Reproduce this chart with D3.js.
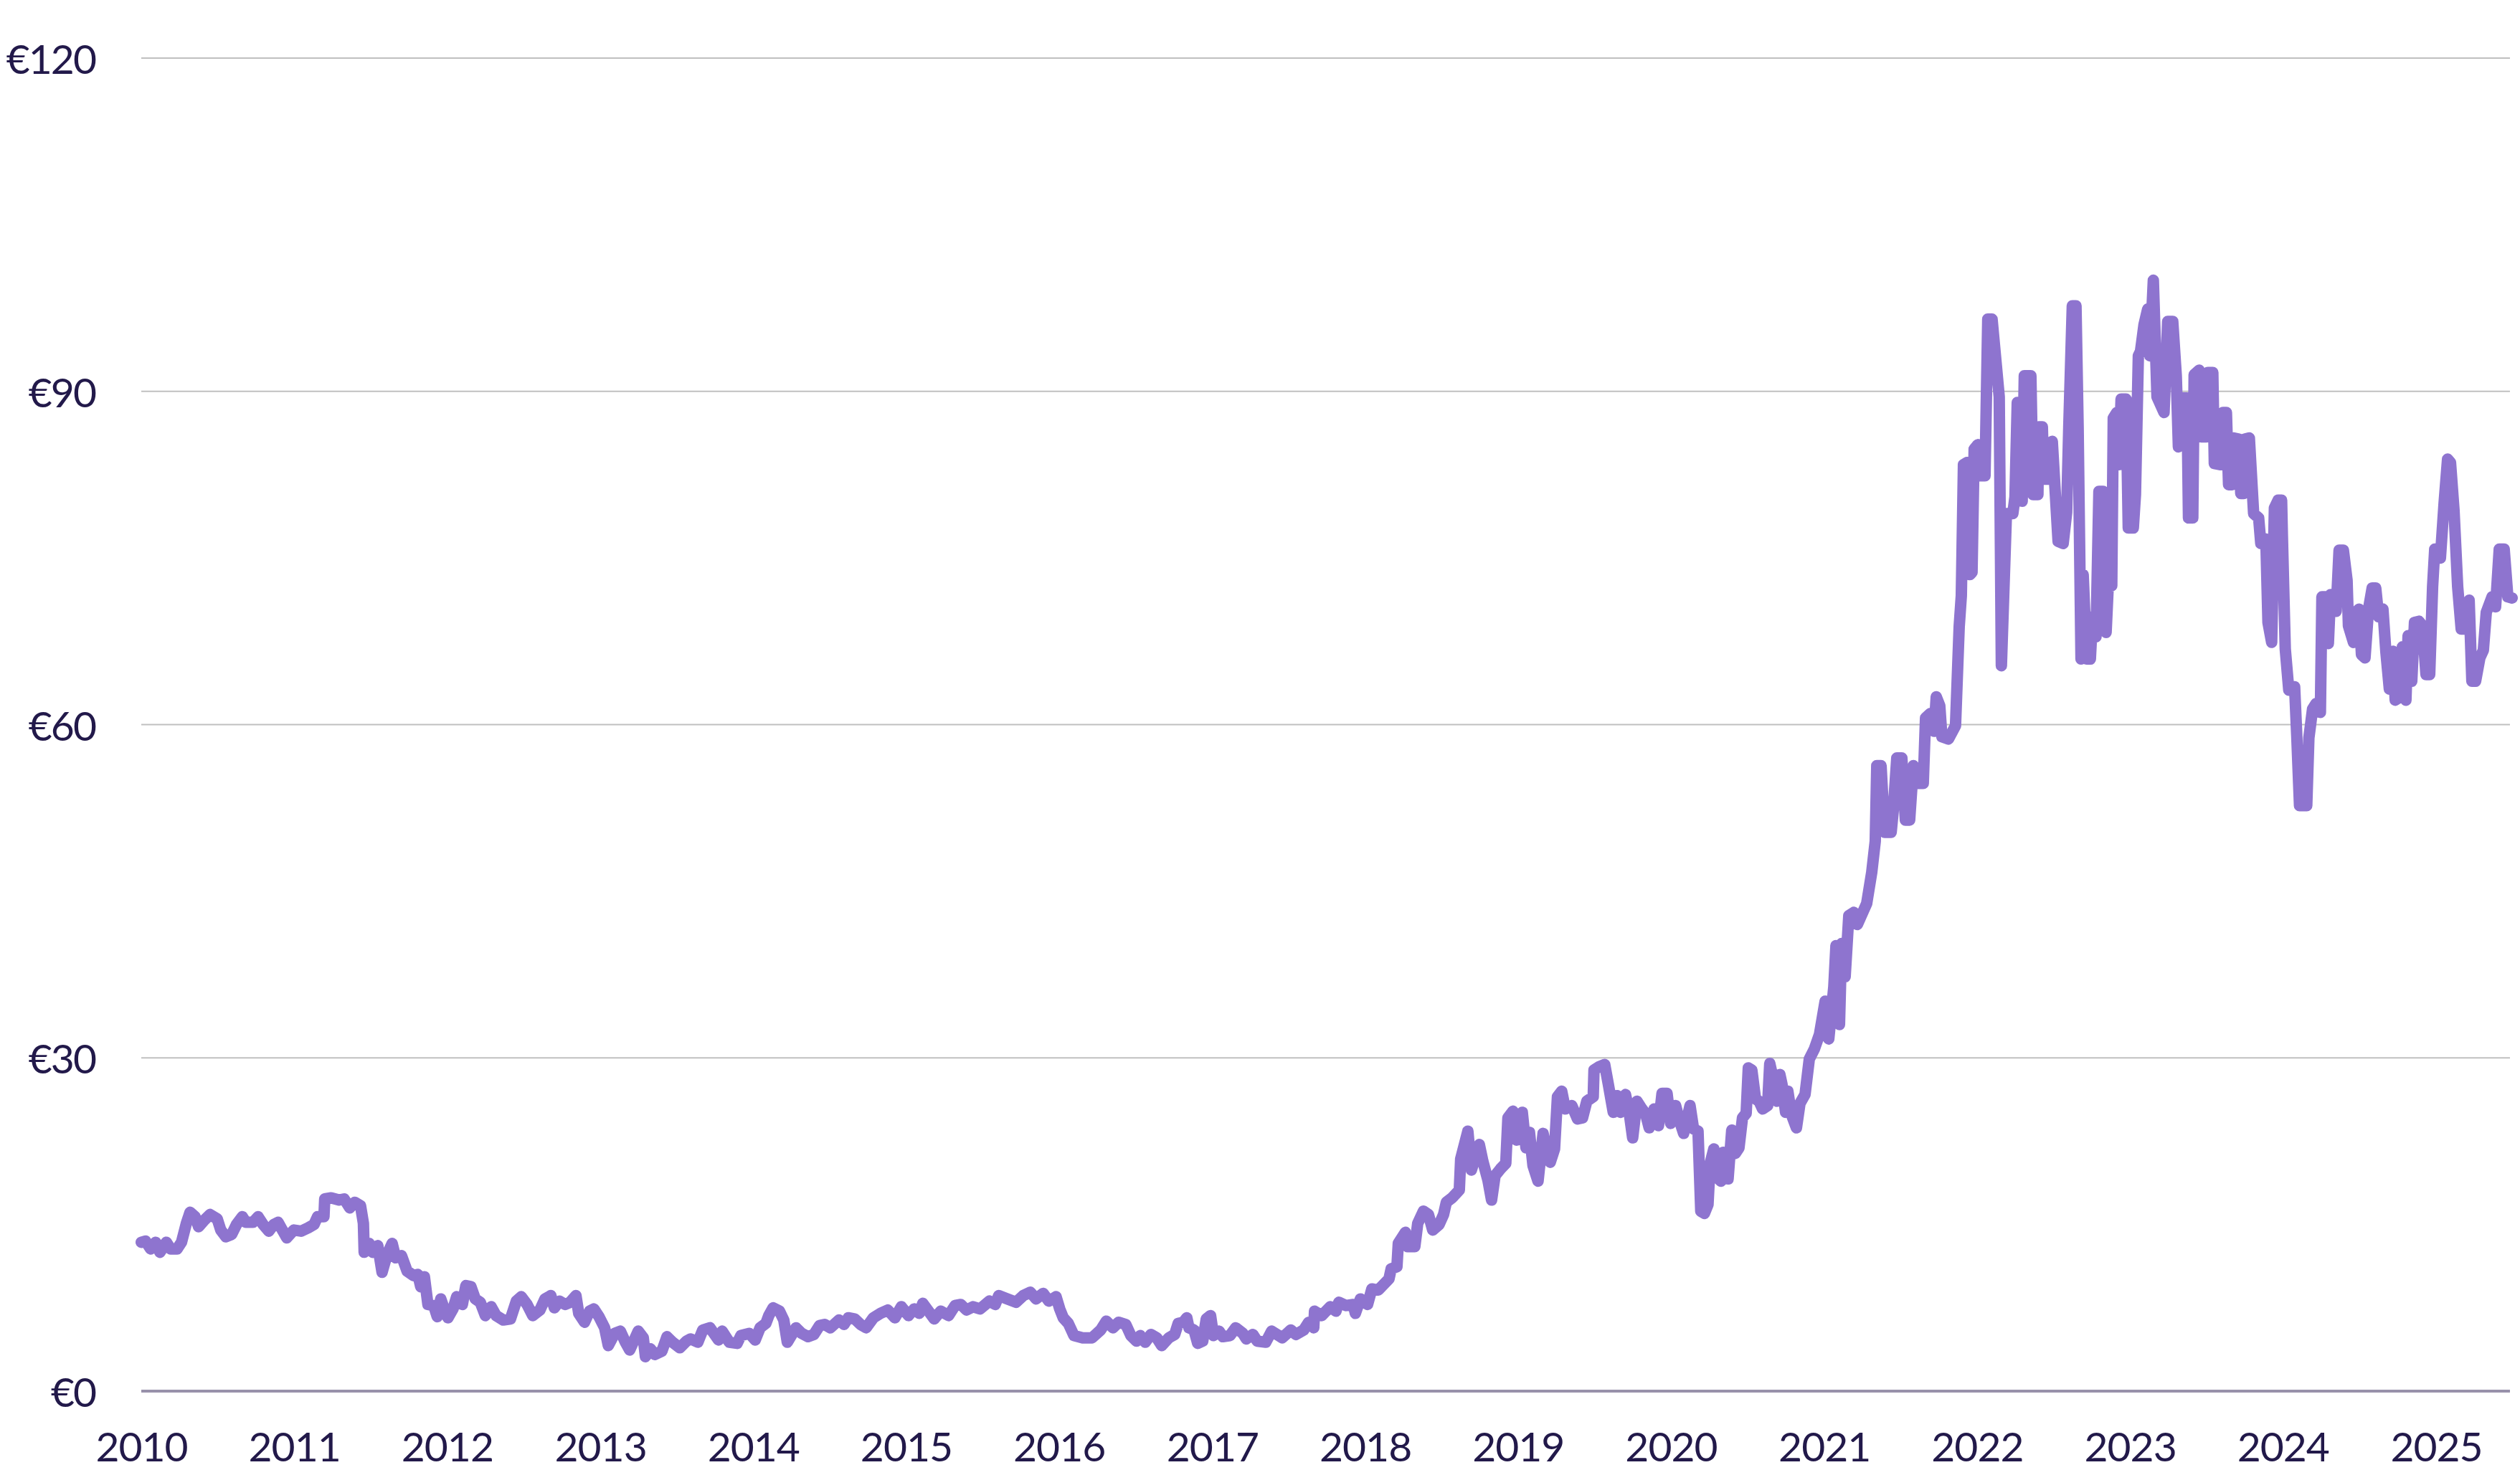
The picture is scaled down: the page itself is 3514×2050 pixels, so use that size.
<!DOCTYPE html>
<html>
<head>
<meta charset="utf-8">
<script src="https://cdnjs.cloudflare.com/ajax/libs/d3/7.8.5/d3.min.js"></script>
<style>
  html, body { margin: 0; padding: 0; background: #ffffff; }
  svg text { font-family: "Lato", "Open Sans", sans-serif; fill: #22194a; }
</style>
</head>
<body>
<div id="chart"></div>
<script>
// decimal years (2010 + fraction)
const years = [
  2010.000, 2010.028, 2010.061, 2010.094, 2010.122, 2010.164, 2010.192, 2010.234, 2010.263, 2010.295,
  2010.319, 2010.352, 2010.375, 2010.413, 2010.450, 2010.497, 2010.520, 2010.553, 2010.591, 2010.623,
  2010.661, 2010.684, 2010.731, 2010.764, 2010.797, 2010.834, 2010.867, 2010.895, 2010.919, 2010.952,
  2010.998, 2011.045, 2011.092, 2011.130, 2011.153, 2011.195, 2011.200, 2011.242, 2011.294, 2011.327,
  2011.364, 2011.397, 2011.434, 2011.453, 2011.458, 2011.491, 2011.514, 2011.547, 2011.575, 2011.608,
  2011.641, 2011.664, 2011.702, 2011.739, 2011.781, 2011.809, 2011.828, 2011.852, 2011.875, 2011.913,
  2011.936, 2011.959, 2011.992, 2012.006, 2012.039, 2012.063, 2012.100, 2012.123, 2012.156, 2012.184,
  2012.217, 2012.250, 2012.288, 2012.320, 2012.367, 2012.414, 2012.452, 2012.484, 2012.522, 2012.559,
  2012.606, 2012.639, 2012.677, 2012.700, 2012.733, 2012.770, 2012.803, 2012.841, 2012.859, 2012.897,
  2012.930, 2012.958, 2012.991, 2013.028, 2013.052, 2013.094, 2013.131, 2013.164, 2013.192, 2013.248,
  2013.281, 2013.295, 2013.328, 2013.356, 2013.403, 2013.436, 2013.473, 2013.520, 2013.563, 2013.591,
  2013.638, 2013.670, 2013.717, 2013.773, 2013.797, 2013.844, 2013.895, 2013.919, 2013.975, 2014.013,
  2014.045, 2014.083, 2014.102, 2014.130, 2014.172, 2014.200, 2014.223, 2014.280, 2014.317, 2014.359,
  2014.397, 2014.434, 2014.467, 2014.505, 2014.561, 2014.594, 2014.622, 2014.664, 2014.702, 2014.739,
  2014.786, 2014.833, 2014.880, 2014.927, 2014.969, 2015.016, 2015.053, 2015.086, 2015.109, 2015.147,
  2015.184, 2015.227, 2015.278, 2015.320, 2015.358, 2015.395, 2015.438, 2015.484, 2015.545, 2015.583,
  2015.606, 2015.663, 2015.719, 2015.766, 2015.813, 2015.850, 2015.897, 2015.934, 2015.981, 2016.005,
  2016.028, 2016.061, 2016.098, 2016.155, 2016.216, 2016.272, 2016.309, 2016.352, 2016.389, 2016.436,
  2016.469, 2016.506, 2016.530, 2016.563, 2016.600, 2016.638, 2016.670, 2016.717, 2016.755, 2016.778,
  2016.811, 2016.834, 2016.848, 2016.881, 2016.905, 2016.938, 2016.961, 2016.989, 2017.008, 2017.045,
  2017.069, 2017.116, 2017.153, 2017.200, 2017.223, 2017.266, 2017.294, 2017.350, 2017.388, 2017.458,
  2017.514, 2017.547, 2017.598, 2017.631, 2017.664, 2017.669, 2017.716, 2017.772, 2017.809, 2017.828,
  2017.875, 2017.922, 2017.936, 2017.969, 2018.016, 2018.044, 2018.086, 2018.156, 2018.170, 2018.208,
  2018.217, 2018.264, 2018.278, 2018.325, 2018.344, 2018.381, 2018.414, 2018.442, 2018.484, 2018.513,
  2018.531, 2018.569, 2018.616, 2018.625, 2018.672, 2018.695, 2018.747, 2018.770, 2018.803, 2018.827,
  2018.850, 2018.885, 2018.920, 2018.934, 2018.967, 2018.991, 2019.028, 2019.052, 2019.075, 2019.098,
  2019.131, 2019.164, 2019.178, 2019.211, 2019.239, 2019.258, 2019.286, 2019.309, 2019.352, 2019.389,
  2019.422, 2019.450, 2019.492, 2019.497, 2019.530, 2019.567, 2019.591, 2019.623, 2019.647, 2019.670,
  2019.703, 2019.727, 2019.750, 2019.778, 2019.811, 2019.834, 2019.858, 2019.891, 2019.919, 2019.942,
  2019.975, 2019.998, 2020.031, 2020.055, 2020.083, 2020.125, 2020.148, 2020.177, 2020.195, 2020.219,
  2020.242, 2020.256, 2020.280, 2020.303, 2020.327, 2020.341, 2020.373, 2020.397, 2020.420, 2020.444,
  2020.467, 2020.491, 2020.505, 2020.528, 2020.552, 2020.575, 2020.598, 2020.631, 2020.645, 2020.669,
  2020.692, 2020.711, 2020.725, 2020.748, 2020.763, 2020.786, 2020.819, 2020.842, 2020.875, 2020.903,
  2020.936, 2020.969, 2021.006, 2021.030, 2021.063, 2021.077, 2021.100, 2021.114, 2021.137, 2021.161,
  2021.194, 2021.217, 2021.278, 2021.311, 2021.334, 2021.344, 2021.372, 2021.395, 2021.438, 2021.452,
  2021.475, 2021.508, 2021.531, 2021.559, 2021.583, 2021.616, 2021.648, 2021.663, 2021.695, 2021.719,
  2021.733, 2021.756, 2021.770, 2021.813, 2021.859, 2021.883, 2021.897, 2021.911, 2021.934, 2021.953,
  2021.967, 2021.981, 2022.005, 2022.028, 2022.052, 2022.070, 2022.098, 2022.145, 2022.159, 2022.192,
  2022.234, 2022.248, 2022.263, 2022.295, 2022.309, 2022.352, 2022.366, 2022.398, 2022.403, 2022.427,
  2022.436, 2022.469, 2022.492, 2022.530, 2022.563, 2022.586, 2022.600, 2022.623, 2022.647, 2022.661,
  2022.680, 2022.694, 2022.717, 2022.741, 2022.755, 2022.778, 2022.797, 2022.825, 2022.844, 2022.858,
  2022.881, 2022.891, 2022.914, 2022.928, 2022.942, 2022.975, 2022.989, 2023.022, 2023.036, 2023.055,
  2023.069, 2023.092, 2023.116, 2023.130, 2023.153, 2023.177, 2023.223, 2023.247, 2023.280, 2023.303,
  2023.317, 2023.341, 2023.373, 2023.383, 2023.411, 2023.420, 2023.453, 2023.467, 2023.500, 2023.509,
  2023.542, 2023.552, 2023.594, 2023.608, 2023.631, 2023.645, 2023.669, 2023.678, 2023.711, 2023.725,
  2023.744, 2023.753, 2023.781, 2023.809, 2023.842, 2023.856, 2023.889, 2023.903, 2023.927, 2023.945,
  2023.969, 2023.992, 2023.997, 2024.016, 2024.039, 2024.077, 2024.091, 2024.109, 2024.156, 2024.170,
  2024.194, 2024.217, 2024.245, 2024.255, 2024.278, 2024.297, 2024.311, 2024.334, 2024.348, 2024.367,
  2024.395, 2024.419, 2024.428, 2024.461, 2024.475, 2024.498, 2024.513, 2024.536, 2024.559, 2024.583,
  2024.606, 2024.625, 2024.653, 2024.672, 2024.695, 2024.719, 2024.733, 2024.766, 2024.780, 2024.803,
  2024.817, 2024.841, 2024.859, 2024.888, 2024.911, 2024.934, 2024.958, 2024.977, 2024.991, 2025.014,
  2025.028, 2025.052, 2025.075, 2025.094, 2025.117, 2025.141, 2025.164, 2025.192, 2025.216, 2025.234,
  2025.258, 2025.286, 2025.309, 2025.328, 2025.366, 2025.389, 2025.413, 2025.445, 2025.469, 2025.497
];

// price in euro at each of those points
const prices = [
  13.4, 13.5, 12.8, 13.4, 12.5, 13.4, 12.8, 12.8, 13.4, 15.1,
  16.1, 15.7, 14.8, 15.4, 15.9, 15.5, 14.5, 13.9, 14.1, 15.0,
  15.7, 15.2, 15.2, 15.7, 15.0, 14.4, 15.0, 15.2, 14.6, 13.8,
  14.5, 14.4, 14.7, 15.0, 15.7, 15.7, 17.3, 17.4, 17.2, 17.3,
  16.5, 17.0, 16.7, 15.1, 12.5, 13.3, 12.5, 13.1, 10.7, 12.3,
  13.3, 12.0, 12.2, 10.8, 10.4, 10.5, 9.4, 10.3, 7.8, 7.7,
  6.7, 8.3, 7.0, 6.6, 7.4, 8.5, 7.8, 9.5, 9.4, 8.3,
  8.0, 6.8, 7.6, 6.8, 6.4, 6.5, 8.1, 8.5, 7.8, 6.8,
  7.3, 8.3, 8.6, 7.5, 8.1, 7.8, 8.0, 8.6, 7.0, 6.2,
  7.2, 7.4, 6.7, 5.7, 4.1, 5.2, 5.4, 4.4, 3.7, 5.4,
  4.8, 3.1, 3.8, 3.3, 3.6, 4.9, 4.4, 3.9, 4.5, 4.7,
  4.4, 5.5, 5.7, 4.6, 5.4, 4.4, 4.3, 5.0, 5.2, 4.6,
  5.7, 6.1, 6.8, 7.5, 7.2, 6.4, 4.4, 5.7, 5.2, 4.9,
  5.1, 5.9, 6.0, 5.7, 6.4, 6.0, 6.6, 6.5, 6.0, 5.7,
  6.6, 7.0, 7.3, 6.6, 7.6, 6.8, 7.4, 7.0, 7.9, 7.2,
  6.5, 7.2, 6.8, 7.7, 7.8, 7.3, 7.6, 7.4, 8.1, 7.8,
  8.6, 8.3, 8.0, 8.6, 8.9, 8.3, 8.8, 8.1, 8.5, 7.4,
  6.6, 6.1, 5.0, 4.8, 4.8, 5.5, 6.3, 5.7, 6.2, 6.0,
  5.0, 4.5, 5.0, 4.4, 5.1, 4.8, 4.1, 4.8, 5.1, 6.1,
  6.2, 6.6, 5.7, 5.5, 4.3, 4.5, 6.5, 6.8, 5.0, 5.4,
  4.9, 5.0, 5.7, 5.2, 4.7, 5.1, 4.5, 4.4, 5.4, 4.8,
  5.5, 5.1, 5.5, 6.2, 5.7, 7.2, 6.8, 7.6, 7.2, 8.0,
  7.7, 7.8, 7.0, 8.3, 7.8, 9.2, 9.1, 10.1, 11.0, 11.2,
  13.3, 14.3, 13.0, 13.0, 15.1, 16.2, 15.9, 14.5, 15.0, 15.9,
  17.0, 17.4, 18.1, 20.9, 23.4, 19.9, 22.2, 20.7, 19.0, 17.2,
  19.4, 20.0, 20.5, 24.6, 25.2, 22.6, 25.1, 21.9, 23.3, 20.3,
  18.9, 23.2, 22.2, 20.6, 21.8, 26.5, 27.0, 25.4, 25.7, 24.5,
  24.6, 26.1, 26.5, 28.9, 29.2, 29.4, 27.6, 25.1, 26.6, 25.1,
  26.7, 25.1, 22.8, 26.1, 25.4, 25.0, 23.7, 25.4, 23.9, 26.8,
  26.8, 24.1, 25.7, 24.4, 23.2, 25.7, 23.6, 23.4, 16.2, 16.0,
  16.8, 20.5, 21.8, 19.2, 18.9, 21.5, 19.1, 23.5, 21.4, 21.9,
  24.6, 25.0, 29.1, 28.9, 26.3, 26.1, 25.4, 25.7, 29.5, 28.0,
  26.1, 28.5, 27.6, 25.1, 27.0, 24.9, 23.7, 25.9, 26.7, 29.9,
  30.8, 32.1, 35.1, 31.7, 36.4, 40.1, 33.0, 40.3, 37.3, 42.8,
  43.1, 42.0, 43.9, 46.7, 49.5, 56.3, 56.3, 50.3, 50.3, 52.3,
  57.0, 57.0, 51.4, 51.4, 56.3, 54.7, 54.7, 60.6, 61.0, 59.4,
  62.5, 61.7, 58.9, 58.7, 59.9, 68.8, 71.6, 83.4, 83.6, 73.5,
  73.7, 84.8, 85.2, 82.4, 82.4, 96.5, 96.5, 89.5, 65.3, 79.0,
  79.0, 80.5, 89.0, 80.1, 91.4, 91.4, 80.7, 80.7, 86.8, 86.8,
  82.1, 82.1, 85.5, 76.5, 76.3, 79.1, 86.8, 97.7, 97.7, 86.8,
  65.9, 73.5, 65.9, 65.9, 69.7, 67.9, 81.0, 81.0, 68.3, 72.5,
  72.5, 87.6, 88.1, 83.4, 89.3, 89.3, 77.7, 77.7, 80.7, 93.2,
  93.6, 96.0, 97.4, 93.2, 100.0, 89.5, 88.1, 96.3, 96.3, 91.4,
  85.0, 89.4, 89.4, 78.6, 78.6, 91.5, 91.9, 85.9, 85.9, 91.7,
  91.7, 83.5, 83.4, 88.1, 88.1, 81.6, 81.6, 85.8, 85.7, 80.8,
  80.8, 85.7, 85.8, 79.0, 78.6, 76.3, 76.7, 69.2, 67.4, 79.5,
  80.2, 80.2, 77.0, 66.8, 63.1, 63.4, 59.0, 52.7, 52.7, 58.8,
  61.4, 61.9, 61.1, 71.5, 71.5, 67.3, 71.7, 71.7, 70.2, 75.7,
  75.7, 73.0, 68.9, 67.4, 70.1, 70.4, 66.3, 66.0, 70.4, 72.3,
  72.3, 69.7, 70.4, 66.6, 63.2, 66.6, 62.2, 62.5, 67.0, 62.2,
  68.0, 63.9, 69.2, 69.3, 68.9, 64.5, 64.5, 72.4, 75.8, 75.8,
  75.0, 79.9, 83.9, 83.6, 79.3, 72.4, 68.6, 68.6, 71.2, 63.9,
  63.9, 66.0, 66.7, 70.1, 71.5, 70.6, 75.8, 75.8, 71.5, 71.4
];

const yTicks = [0, 30, 60, 90, 120];
const xTickYears = [2010, 2011, 2012, 2013, 2014, 2015, 2016, 2017, 2018, 2019, 2020, 2021, 2022, 2023, 2024, 2025];

const width = 3514, height = 2050;
const margin = { left: 197, right: 14, top: 81, bottom: 110 };

function yearToDate(t) {
    let y = Math.floor(t);
    let start = Date.UTC(y, 0, 1), end = Date.UTC(y + 1, 0, 1);
    return new Date(start + (t - y) * (end - start));
}

let data = years.map(function(t, i) { return { date: yearToDate(t), value: prices[i] }; });

let svg = d3.select("#chart")
    .append("svg")
    .attr("width", width)
    .attr("height", height);

let x = d3.scaleUtc()
    .domain([yearToDate(2010), yearToDate(2025.483)])
    .range([margin.left, width - margin.right]);

let y = d3.scaleLinear()
    .domain([0, 120])
    .range([height - margin.bottom, margin.top]);

// euro labels on the left
let yAxis = svg.append("g")
    .call(d3.axisLeft(y)
        .tickValues(yTicks)
        .tickSize(0)
        .tickPadding(0)
        .tickFormat(function(d) { return "€" + d; }));
yAxis.select(".domain").remove();
yAxis.selectAll(".tick line").remove();
yAxis.selectAll(".tick text")
    .attr("x", 133)
    .attr("dy", "0.38em")
    .style("font-size", "57px")
    .style("letter-spacing", "-2px")
    .style("text-anchor", "end");

// horizontal gridlines
svg.append("g")
    .selectAll("line")
    .data(yTicks.filter(function(d) { return d > 0; }))
    .enter()
    .append("line")
    .attr("x1", margin.left)
    .attr("x2", width - margin.right)
    .attr("y1", function(d) { return y(d); })
    .attr("y2", function(d) { return y(d); })
    .attr("stroke", "#c0c0c0")
    .attr("stroke-width", 2);

// baseline
svg.append("line")
    .attr("x1", margin.left)
    .attr("x2", width - margin.right)
    .attr("y1", y(0))
    .attr("y2", y(0))
    .attr("stroke", "#9891aa")
    .attr("stroke-width", 4);

// year labels
let xAxis = svg.append("g")
    .attr("transform", `translate(0, ${y(0)})`)
    .call(d3.axisBottom(x)
        .tickValues(xTickYears.map(function(d) { return yearToDate(d); }))
        .tickSize(0)
        .tickPadding(0)
        .tickFormat(d3.utcFormat("%Y")));
xAxis.select(".domain").remove();
xAxis.selectAll(".tick text")
    .attr("y", 98)
    .attr("dy", 0)
    .style("font-size", "57px")
    .style("letter-spacing", "-1px")
    .style("text-anchor", "middle");

// price line
let line = d3.line()
    .x(function(d) { return x(d.date); })
    .y(function(d) { return y(d.value); });

svg.append("path")
    .datum(data)
    .attr("d", line)
    .attr("fill", "none")
    .attr("stroke", "#8e74cf")
    .attr("stroke-width", 16)
    .attr("stroke-linejoin", "round")
    .attr("stroke-linecap", "round");
</script>
</body>
</html>
